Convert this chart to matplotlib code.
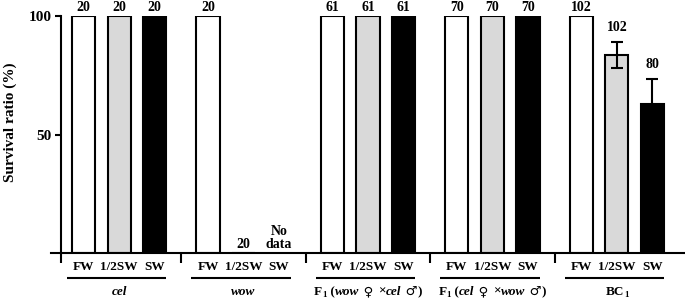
import numpy as np
import matplotlib.pyplot as plt
from matplotlib.transforms import IdentityTransform

plt.rcParams['font.family'] = ['Liberation Serif', 'DejaVu Sans']
plt.rcParams['font.weight'] = 'bold'

# survival ratio (%) per group: FW, 1/2SW, SW
conditions = ['FW', '1/2SW', 'SW']
groups = ['cel', 'wow', 'F1 (wow x cel)', 'F1 (cel x wow)', 'BC1']
survival = [
    [100, 100, 100],
    [100, 0, np.nan],
    [100, 100, 100],
    [100, 100, 100],
    [100, 83.5, 62.8],
]
errors = [
    [0, 0, 0],
    [0, 0, 0],
    [0, 0, 0],
    [0, 0, 0],
    [0, 5.4, 10.5],
]
counts = [
    ['20', '20', '20'],
    ['20', '20', 'No\ndata'],
    ['61', '61', '61'],
    ['70', '70', '70'],
    ['102', '102', '80'],
]
colors = ['white', '#d9d9d9', 'black']

group_step = 3.5
width = 0.65

fig = plt.figure(figsize=(6.85, 3.02), dpi=100)
ax = fig.add_axes([51 / 685, 49 / 302, 634 / 685, 237 / 302])

for g in range(len(groups)):
    for i in range(3):
        x = g * group_step + i
        v = survival[g][i]
        if not np.isnan(v):
            ax.bar(x, v, width, color=colors[i], edgecolor='black', linewidth=1.5, zorder=2)
            if errors[g][i] > 0:
                ax.errorbar(x, v, yerr=errors[g][i], color='black', capsize=4,
                            elinewidth=1.5, capthick=1.5, zorder=3)
        top = 0 if np.isnan(v) else v + errors[g][i]
        off = 6 if errors[g][i] > 0 else 1.5
        ax.annotate(counts[g][i], (x, top), xytext=(0, off), textcoords='offset points',
                    ha='center', va='bottom', fontsize=10, fontweight='bold',
                    linespacing=1.0)

ax.set_xlim(-0.914, 16.915)
ax.set_ylim(0, 100)
ax.spines['top'].set_visible(False)
ax.spines['right'].set_visible(False)
ax.spines['left'].set_position(('data', -0.633))
ax.spines['left'].set_linewidth(1.5)
ax.spines['bottom'].set_linewidth(1.5)

ax.set_yticks([50, 100])
ax.set_yticklabels(['50', '100'], fontsize=11, fontweight='bold')
ax.tick_params(axis='y', direction='out', length=4.5, width=1.5, pad=2)

pos = [g * group_step + i for g in range(len(groups)) for i in range(3)]
ax.set_xticks(pos)
ax.set_xticklabels(conditions * len(groups), fontsize=9.5, fontweight='bold')
ax.tick_params(axis='x', which='major', length=0, pad=6)
bounds = [-0.633] + [g * group_step + 2.75 for g in range(len(groups) - 1)]
ax.set_xticks(bounds, minor=True)
ax.tick_params(axis='x', which='minor', direction='out', length=7, width=1.5)

ax.set_ylabel('Survival ratio (%)', fontsize=11, fontweight='bold', va='center')
ax.yaxis.set_label_coords(-0.065, 0.55)

# underline each group
for g in range(len(groups)):
    x0 = g * group_step - 0.47
    x1 = g * group_step + 2.33
    ax.plot([x0, x1], [-10.6, -10.6], color='black', lw=1.5, clip_on=False,
            solid_capstyle='butt')

# group labels made of pieces (text, italic, subscript)
labels = [
    [('cel', True, False)],
    [('wow', True, False)],
    [('F', False, False), ('1', False, True), (' (', False, False), ('wow', True, False),
     (' \u2640 ', False, False), ('\u00d7', False, False), ('cel', True, False),
     (' \u2642', False, False), (')', False, False)],
    [('F', False, False), ('1', False, True), (' (', False, False), ('cel', True, False),
     (' \u2640 ', False, False), ('\u00d7', False, False), ('wow', True, False),
     (' \u2642', False, False), (')', False, False)],
    [('BC', False, False), ('1', False, True)],
]
renderer = fig.canvas.get_renderer()
for g, pieces in enumerate(labels):
    xc = ax.transData.transform((g * group_step + 1, 0))[0]
    texts = []
    for s, it, sub in pieces:
        fam = ['DejaVu Sans'] if s.strip() in ('\u2640', '\u2642') else ['Liberation Serif', 'DejaVu Sans']
        t = fig.text(0, 0, s, transform=IdentityTransform(), fontsize=6.5 if sub else 9.5,
                     fontweight='bold', style='italic' if it else 'normal', family=fam,
                     va='baseline', ha='left')
        texts.append((t, sub))
    widths = [t.get_window_extent(renderer).width for t, _ in texts]
    x = xc - sum(widths) / 2
    for (t, sub), w in zip(texts, widths):
        t.set_position((x, 7 - (2 if sub else 0)))
        x += w

fig.savefig('out.png', dpi=100)
